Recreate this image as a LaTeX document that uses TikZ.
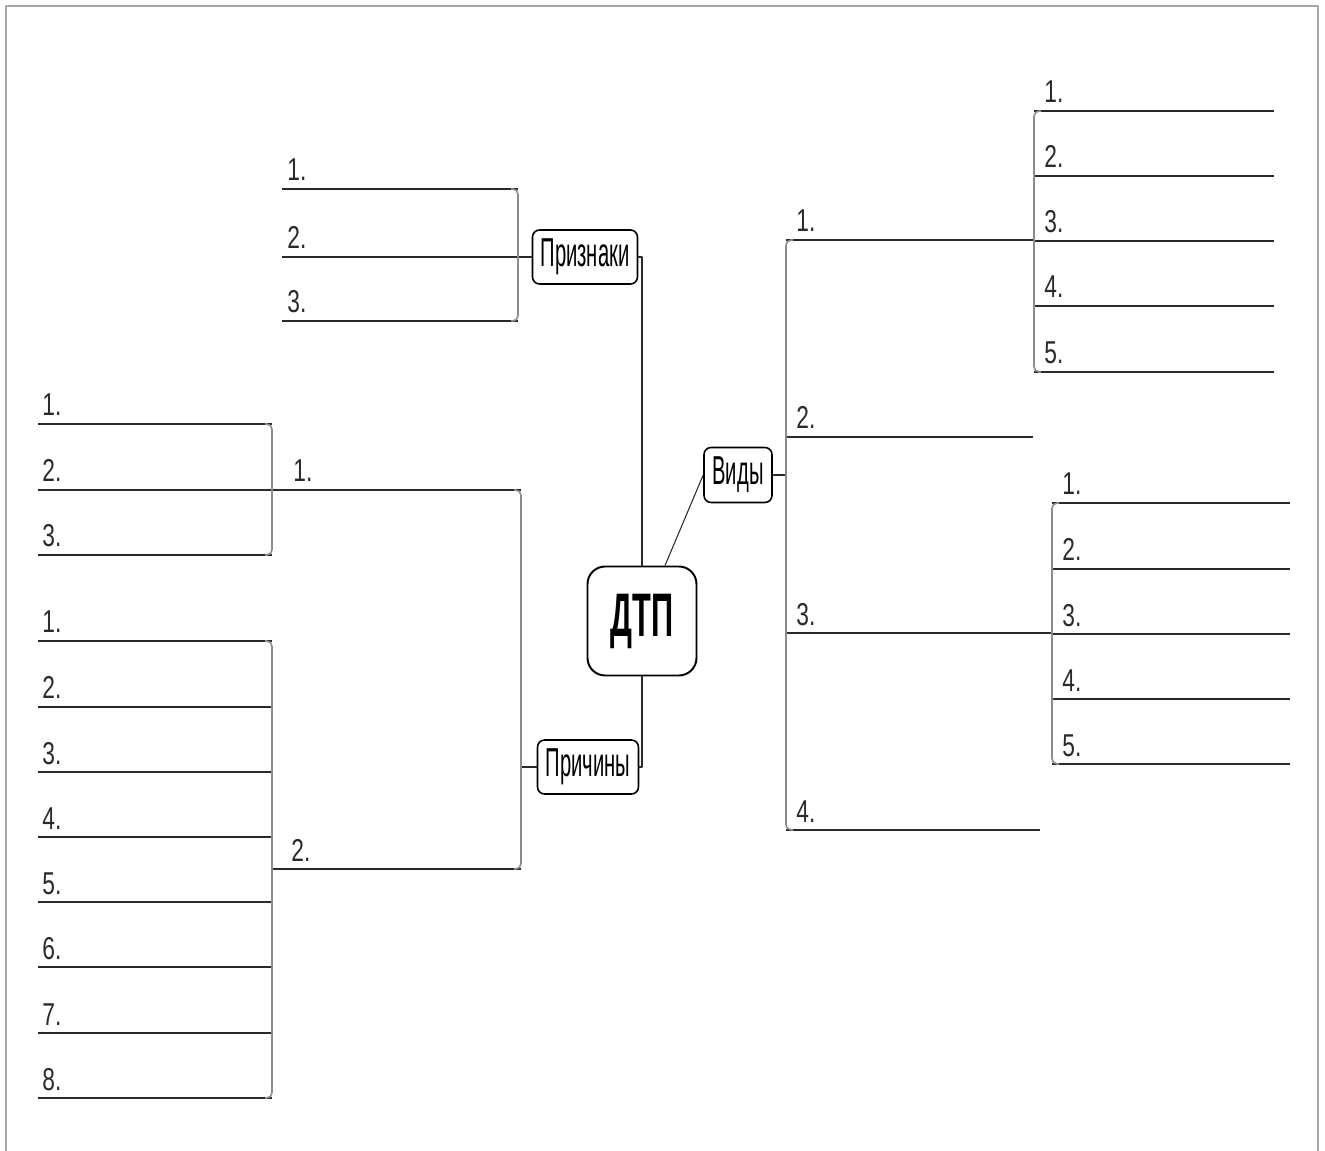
\documentclass[tikz,border=0pt]{standalone}
\usepackage{fontspec}
\setmainfont{Liberation Sans}
\newfontfamily\numfont[FakeStretch=0.72]{Liberation Sans}
\newfontfamily\boxfont[FakeStretch=0.5]{Liberation Sans}
\usetikzlibrary{calc}
\definecolor{Ink}{HTML}{2A2A2A}
\definecolor{Muted}{HTML}{8C8C8C}
\definecolor{Frame}{HTML}{A6A6A6}
\tikzset{
  hub/.style={draw=black,line width=1.1pt,rounded corners=10pt,fill=white,inner sep=0pt,minimum width=2.18cm,minimum height=2.18cm,font=\boxfont\bfseries\fontsize{35}{37}\selectfont},
  topicbox/.style={draw=black,line width=0.9pt,rounded corners=4pt,fill=white,inner sep=0pt,minimum height=1.08cm,font=\boxfont\fontsize{23}{25}\selectfont},
  link/.style={draw=Ink,line width=0.6pt},
  topic/.style={draw=Ink,line width=1.2pt},
  brk/.style={draw=Muted,line width=0.9pt,rounded corners=3pt},
  num/.style={anchor=base west,inner sep=0pt,text=Ink,font=\numfont\fontsize{18}{20}\selectfont},
  frame/.style={draw=Frame,line width=1.2pt},
}
\begin{document}
\begin{tikzpicture}[x=0.02cm,y=-0.02cm,line join=round]
\useasboundingbox (0,0) rectangle (1325,1151);
\draw[frame] (6,1151) -- (6,6) -- (1318,6) -- (1318,1151);

\node[hub] (dtp) at (642,621) {ДТП};
\node[topicbox,minimum width=2.1cm] (priz) at (585,257) {Признаки};
\node[topicbox,minimum width=1.36cm,minimum height=1.1cm] (vidy) at (738,475) {Виды};
\node[topicbox,minimum width=2.02cm] (prich) at (588,767) {Причины};

\draw[link] (dtp.north) |- (priz.east);
\draw[link] (dtp.south) |- (prich.east);
\draw[link] ([xshift=0.46cm]dtp.north) -- (vidy.west);

% Признаки
\foreach \i/\y in {1/189,2/257,3/321}{
  \coordinate (za\i) at (282,\y); \coordinate (zb\i) at (518,\y);
  \draw[topic] (za\i) -- (zb\i);
  \node[num] (zn\i) at (287,\y-8) {\i.};
}
\draw[topic] (zb2) -- (priz.west);
\draw[brk] ([xshift=-0.14cm]zb1) -- (zb1) -- (zb3) -- ([xshift=-0.14cm]zb3);

% Причины
\coordinate (cj) at (521,767);
\draw[topic] (prich.west) -- (cj);
\foreach \i/\y/\t in {1/490/293,2/869/291}{
  \coordinate (ca\i) at (272,\y); \coordinate (cb\i) at (521,\y);
  \draw[topic] (ca\i) -- (cb\i);
  \node[num] (cn\i) at (\t,\y-8) {\i.};
}
\draw[brk] ([xshift=-0.14cm]cb1) -- (cb1) -- (cb2) -- ([xshift=-0.14cm]cb2);
\foreach \i/\y in {1/424,2/490,3/555}{
  \coordinate (pa\i) at (38,\y); \coordinate (pb\i) at (272,\y);
  \draw[topic] (pa\i) -- (pb\i);
  \node[num] (pn\i) at (42,\y-8) {\i.};
}
\draw[brk] ([xshift=-0.14cm]pb1) -- (pb1) -- (pb3) -- ([xshift=-0.14cm]pb3);
\foreach \i/\y in {1/641,2/707,3/772,4/837,5/902,6/967,7/1033,8/1098}{
  \coordinate (qa\i) at (38,\y); \coordinate (qb\i) at (272,\y);
  \draw[topic] (qa\i) -- (qb\i);
  \node[num] (qn\i) at (42,\y-8) {\i.};
}
\draw[brk] ([xshift=-0.14cm]qb1) -- (qb1) -- (qb8) -- ([xshift=-0.14cm]qb8);

% Виды
\coordinate (vj) at (786,475);
\draw[topic] (vidy.east) -- (vj);
\foreach \i/\y/\e in {1/240/1034,2/437/1033,3/633/1052,4/830/1040}{
  \coordinate (va\i) at (786,\y); \coordinate (vb\i) at (\e,\y);
  \draw[topic] (va\i) -- (vb\i);
  \node[num] (vn\i) at (796,\y-8) {\i.};
}
\draw[brk] ([xshift=0.14cm]va1) -- (va1) -- (va4) -- ([xshift=0.14cm]va4);
\foreach \i/\y in {1/111,2/176,3/241,4/306,5/372}{
  \coordinate (wa\i) at (1034,\y); \coordinate (wb\i) at (1274,\y);
  \draw[topic] (wa\i) -- (wb\i);
  \node[num] (wn\i) at (1044,\y-8) {\i.};
}
\draw[brk] ([xshift=0.14cm]wa1) -- (wa1) -- (wa5) -- ([xshift=0.14cm]wa5);
\foreach \i/\y in {1/503,2/569,3/634,4/699,5/764}{
  \coordinate (xa\i) at (1052,\y); \coordinate (xb\i) at (1290,\y);
  \draw[topic] (xa\i) -- (xb\i);
  \node[num] (xn\i) at (1062,\y-8) {\i.};
}
\draw[brk] ([xshift=0.14cm]xa1) -- (xa1) -- (xa5) -- ([xshift=0.14cm]xa5);
\end{tikzpicture}
\end{document}
